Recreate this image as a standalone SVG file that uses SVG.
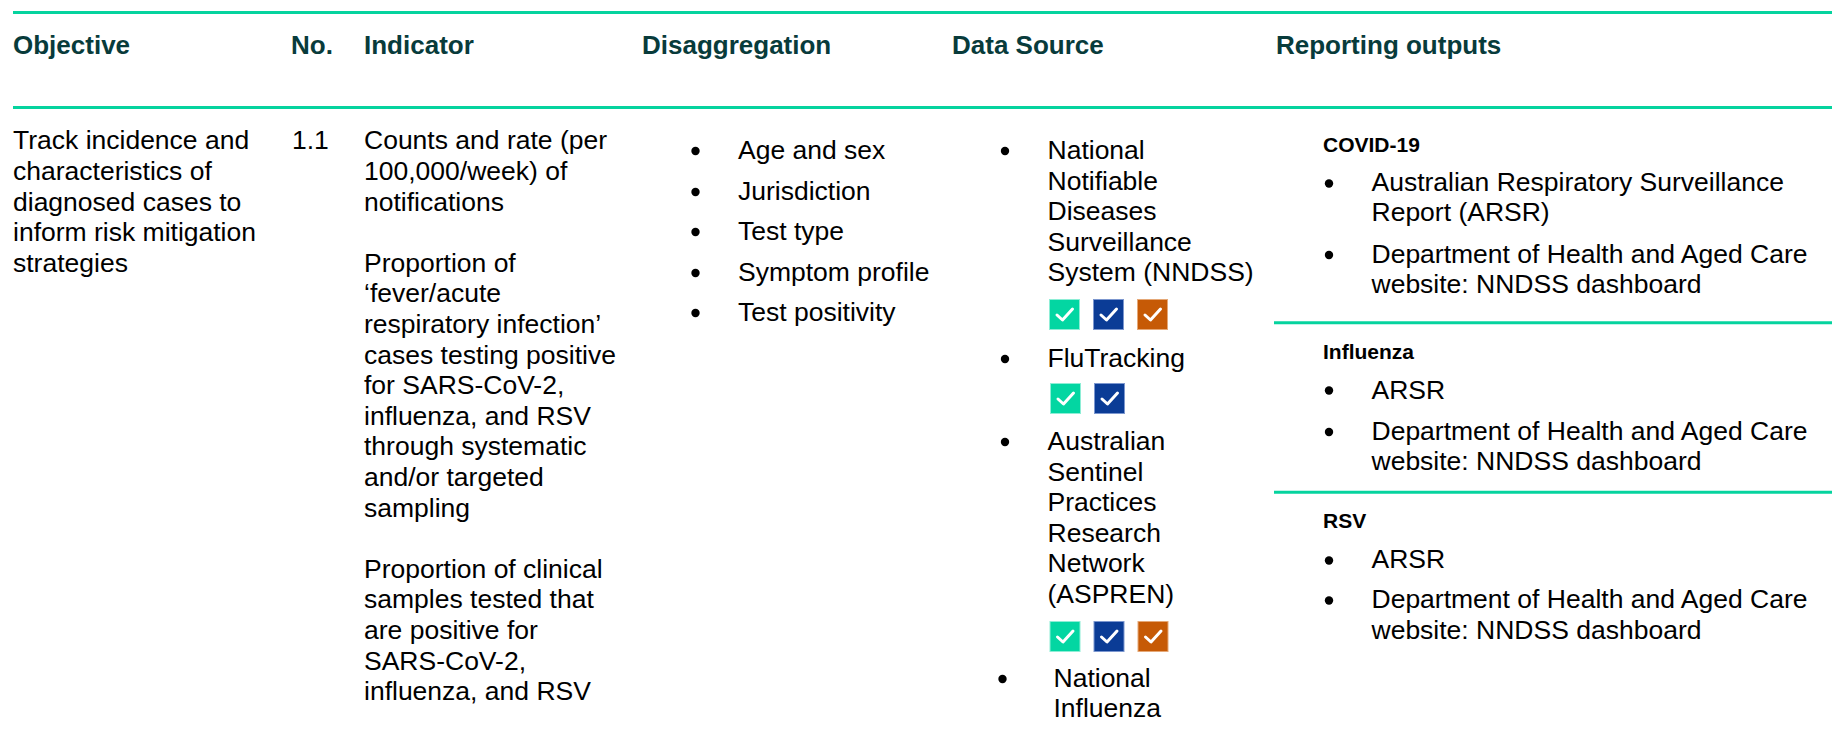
<svg xmlns="http://www.w3.org/2000/svg" width="1832" height="733" viewBox="0 0 1832 733">
<defs>
<style>
.hd{font-family:"Liberation Sans",Arial,sans-serif;font-weight:bold;font-size:26px;fill:#083b3b}
.tx{font-family:"Liberation Sans",Arial,sans-serif;font-size:26.5px;fill:#000}
.sub{font-family:"Liberation Sans",Arial,sans-serif;font-weight:bold;font-size:21px;fill:#000}
.rule{stroke:#05d39e;stroke-width:3;fill:none}
.bul{fill:#000}
.ck{fill:none;stroke:#fff;stroke-width:3;stroke-linecap:round;stroke-linejoin:round}
.g{fill:#03d6a2;stroke:#8eeed6;stroke-width:1}
.b{fill:#0b3c96;stroke:#7c97cf;stroke-width:1}
.o{fill:#c65a06;stroke:#e5a877;stroke-width:1}
</style>
<g id="tick"><path class="ck" d="M7.5 15.5 L13 20.5 L23 9.5"/></g>
</defs>
<rect width="1832" height="733" fill="#fff"/>

<g id="rules">
<line class="rule" x1="13" y1="12.5" x2="1832" y2="12.5"/>
<line class="rule" x1="13" y1="107.5" x2="1832" y2="107.5"/>
<line class="rule" x1="1274" y1="322.7" x2="1832" y2="322.7"/>
<line class="rule" x1="1274" y1="492.3" x2="1832" y2="492.3"/>
</g>

<g id="header">
<text class="hd" x="13" y="54">Objective</text>
<text class="hd" x="291" y="54">No.</text>
<text class="hd" x="364" y="54">Indicator</text>
<text class="hd" x="642" y="54">Disaggregation</text>
<text class="hd" x="952" y="54">Data Source</text>
<text class="hd" x="1276" y="54">Reporting outputs</text>
</g>

<g id="objective">
<text class="tx" x="13">
<tspan x="13" y="149.3">Track incidence and</tspan>
<tspan x="13" y="179.9">characteristics of</tspan>
<tspan x="13" y="210.5">diagnosed cases to</tspan>
<tspan x="13" y="241.1">inform risk mitigation</tspan>
<tspan x="13" y="271.7">strategies</tspan>
</text>
</g>

<g id="number">
<text class="tx" x="292" y="149.3">1.1</text>
</g>

<g id="indicator">
<text class="tx">
<tspan x="364" y="149.3">Counts and rate (per</tspan>
<tspan x="364" y="179.9">100,000/week) of</tspan>
<tspan x="364" y="210.5">notifications</tspan>
<tspan x="364" y="271.7">Proportion of</tspan>
<tspan x="364" y="302.3">‘fever/acute</tspan>
<tspan x="364" y="332.9">respiratory infection’</tspan>
<tspan x="364" y="363.5">cases testing positive</tspan>
<tspan x="364" y="394.1">for SARS-CoV-2,</tspan>
<tspan x="364" y="424.7">influenza, and RSV</tspan>
<tspan x="364" y="455.3">through systematic</tspan>
<tspan x="364" y="485.9">and/or targeted</tspan>
<tspan x="364" y="516.5">sampling</tspan>
<tspan x="364" y="577.7">Proportion of clinical</tspan>
<tspan x="364" y="608.3">samples tested that</tspan>
<tspan x="364" y="638.9">are positive for</tspan>
<tspan x="364" y="669.5">SARS-CoV-2,</tspan>
<tspan x="364" y="700.1">influenza, and RSV</tspan>
</text>
</g>

<g id="disaggregation">
<circle class="bul" cx="695.5" cy="151" r="4.2"/>
<circle class="bul" cx="695.5" cy="192" r="4.2"/>
<circle class="bul" cx="695.5" cy="232" r="4.2"/>
<circle class="bul" cx="695.5" cy="273" r="4.2"/>
<circle class="bul" cx="695.5" cy="313" r="4.2"/>
<text class="tx">
<tspan x="738" y="159">Age and sex</tspan>
<tspan x="738" y="199.5">Jurisdiction</tspan>
<tspan x="738" y="240">Test type</tspan>
<tspan x="738" y="280.5">Symptom profile</tspan>
<tspan x="738" y="321">Test positivity</tspan>
</text>
</g>

<g id="datasource">
<g id="nndss">
<circle class="bul" cx="1005" cy="151" r="4.2"/>
<text class="tx">
<tspan x="1047.5" y="159">National</tspan>
<tspan x="1047.5" y="189.5">Notifiable</tspan>
<tspan x="1047.5" y="220">Diseases</tspan>
<tspan x="1047.5" y="250.5">Surveillance</tspan>
<tspan x="1047.5" y="281">System (NNDSS)</tspan>
</text>
<rect class="g" x="1049.5" y="299.5" width="30" height="30"/><use href="#tick" x="1049.5" y="299.5"/>
<rect class="b" x="1093.5" y="299.5" width="30" height="30"/><use href="#tick" x="1093.5" y="299.5"/>
<rect class="o" x="1137.5" y="299.5" width="30" height="30"/><use href="#tick" x="1137.5" y="299.5"/>
</g>
<g id="flutracking">
<circle class="bul" cx="1005" cy="359" r="4.2"/>
<text class="tx" x="1047.5" y="367">FluTracking</text>
<rect class="g" x="1050.5" y="383.5" width="30" height="30"/><use href="#tick" x="1050.5" y="383.5"/>
<rect class="b" x="1094.5" y="383.5" width="30" height="30"/><use href="#tick" x="1094.5" y="383.5"/>
</g>
<g id="aspren">
<circle class="bul" cx="1005" cy="442" r="4.2"/>
<text class="tx">
<tspan x="1047.5" y="450">Australian</tspan>
<tspan x="1047.5" y="480.5">Sentinel</tspan>
<tspan x="1047.5" y="511">Practices</tspan>
<tspan x="1047.5" y="541.5">Research</tspan>
<tspan x="1047.5" y="572">Network</tspan>
<tspan x="1047.5" y="602.5">(ASPREN)</tspan>
</text>
<rect class="g" x="1050" y="621.5" width="30" height="30"/><use href="#tick" x="1050" y="621.5"/>
<rect class="b" x="1094" y="621.5" width="30" height="30"/><use href="#tick" x="1094" y="621.5"/>
<rect class="o" x="1138" y="621.5" width="30" height="30"/><use href="#tick" x="1138" y="621.5"/>
</g>
<g id="nic">
<circle class="bul" cx="1002.5" cy="679" r="4.2"/>
<text class="tx">
<tspan x="1053.5" y="687">National</tspan>
<tspan x="1053.5" y="717">Influenza</tspan>
</text>
</g>
</g>

<g id="reporting">
<g id="covid">
<text class="sub" x="1323" y="152.3">COVID-19</text>
<circle class="bul" cx="1329" cy="183.5" r="4.2"/>
<circle class="bul" cx="1329" cy="255" r="4.2"/>
<text class="tx">
<tspan x="1371.5" y="190.7">Australian Respiratory Surveillance</tspan>
<tspan x="1371.5" y="221">Report (ARSR)</tspan>
<tspan x="1371.5" y="262.7">Department of Health and Aged Care</tspan>
<tspan x="1371.5" y="293">website: NNDSS dashboard</tspan>
</text>
</g>
<g id="influenza">
<text class="sub" x="1323" y="359.3">Influenza</text>
<circle class="bul" cx="1329" cy="390.5" r="4.2"/>
<circle class="bul" cx="1329" cy="432" r="4.2"/>
<text class="tx">
<tspan x="1371.5" y="398.5">ARSR</tspan>
<tspan x="1371.5" y="440">Department of Health and Aged Care</tspan>
<tspan x="1371.5" y="470.3">website: NNDSS dashboard</tspan>
</text>
</g>
<g id="rsv">
<text class="sub" x="1323" y="528.3">RSV</text>
<circle class="bul" cx="1329" cy="560.5" r="4.2"/>
<circle class="bul" cx="1329" cy="600.5" r="4.2"/>
<text class="tx">
<tspan x="1371.5" y="568.3">ARSR</tspan>
<tspan x="1371.5" y="608.3">Department of Health and Aged Care</tspan>
<tspan x="1371.5" y="638.6">website: NNDSS dashboard</tspan>
</text>
</g>
</g>
</svg>
